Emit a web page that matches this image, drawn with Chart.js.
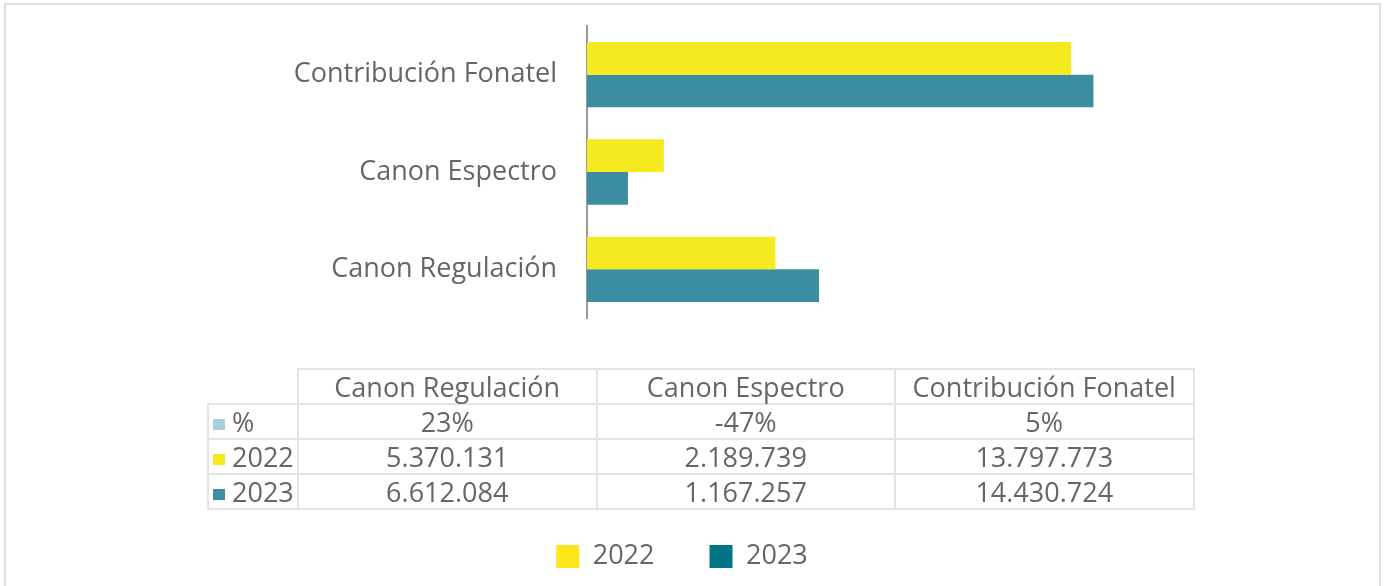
<!DOCTYPE html>
<html lang="es">
<head>
<meta charset="utf-8">
<title>Canon Regulación, Canon Espectro y Contribución Fonatel</title>
<script src="https://cdn.jsdelivr.net/npm/chart.js@4.4.0/dist/chart.umd.min.js"></script>
<style>
  body { margin: 0; background: #fff; }
  #wrap { position: relative; width: 1385px; height: 586px; overflow: hidden; font-family: "Open Sans", sans-serif; }
  #marco { position: absolute; left: 4px; top: 3px; width: 1377px; height: 600px; border: 2px solid #dedede; box-sizing: border-box; }
  #grafico { position: absolute; left: 0; top: 0; }
  #tabla { position: absolute; left: 207px; top: 368px; border-collapse: collapse; color: #666; font-size: 27px; }
  #tabla td { border: 2px solid #e4e4e4; height: 33px; padding: 0; text-align: center; line-height: 33px; white-space: nowrap; }
  #tabla td.serie { text-align: left; width: 84px; padding-left: 4px; }
  #tabla td.vacia { border-top: none; border-left: none; }
  #tabla td.col { width: 296.5px; }
  .cuadro { display: inline-block; width: 12px; height: 11px; margin-right: 7px; vertical-align: 2px; }
</style>
</head>
<body>
<div id="wrap">
  <div id="marco"></div>
  <canvas id="grafico" width="1385" height="586"></canvas>
  <table id="tabla"></table>
</div>
<script>
// datos (orden de la tabla)
const categorias = ['Canon Regulación', 'Canon Espectro', 'Contribución Fonatel'];
const variacion = ['23%', '-47%', '5%'];
const valores2022 = [5370131, 2189739, 13797773];
const valores2023 = [6612084, 1167257, 14430724];
const series = ['2022', '2023'];

const colorBarras = ['#F4EA1F', '#3D8DA2'];
const colorLeyenda = ['#FCE51A', '#017585'];
const colorPct = '#A8CFDC';
const gris = '#666666';

function formato(n) {
  return n.toLocaleString('de-DE');
}

function armarTabla() {
  const tabla = document.getElementById('tabla');
  let html = '<tr><td class="serie vacia"></td>';
  categorias.forEach(c => { html += '<td class="col">' + c + '</td>'; });
  html += '</tr>';
  html += '<tr><td class="serie"><span class="cuadro" style="background:' + colorPct + '"></span>%</td>';
  variacion.forEach(v => { html += '<td>' + v + '</td>'; });
  html += '</tr>';
  [valores2022, valores2023].forEach((fila, i) => {
    html += '<tr><td class="serie"><span class="cuadro" style="background:' + colorBarras[i] + '"></span>' + series[i] + '</td>';
    fila.forEach(v => { html += '<td>' + formato(v) + '</td>'; });
    html += '</tr>';
  });
  tabla.innerHTML = html;
}

// la leyenda queda abajo, separada de las barras por la tabla
const ajusteLeyenda = {
  id: 'ajusteLeyenda',
  beforeLayout(chart) {
    const lg = chart.legend;
    if (lg && !lg.parcheado) {
      const fitOriginal = lg.fit;
      lg.fit = function () { fitOriginal.call(this); this.height = 98; };
      lg.parcheado = true;
    }
  }
};

function inicializarGrafico() {
  Chart.defaults.font.family = '"Open Sans", sans-serif';
  Chart.defaults.color = gris;
  const ctx = document.getElementById('grafico').getContext('2d');
  new Chart(ctx, {
    type: 'bar',
    data: {
      labels: categorias,
      datasets: [
        { label: series[0], data: valores2022, backgroundColor: colorBarras[0] },
        { label: series[1], data: valores2023, backgroundColor: colorBarras[1] }
      ]
    },
    plugins: [ajusteLeyenda],
    options: {
      indexAxis: 'y',
      responsive: false,
      animation: false,
      categoryPercentage: 0.672,
      barPercentage: 1,
      layout: { padding: { top: 26, right: 21, bottom: 0, left: 0 } },
      scales: {
        y: {
          reverse: true,
          grid: { display: false, drawTicks: false },
          border: { display: true, color: '#9a9a9a', width: 2 },
          ticks: { font: { size: 27 }, color: gris, padding: 30 },
          afterFit: (axis) => { axis.width = 587; axis.paddingTop = 0; axis.paddingBottom = 0; }
        },
        x: {
          min: 0,
          max: 22140000,
          grid: { display: false },
          border: { display: false },
          ticks: { display: false },
          afterFit: (axis) => { axis.height = 170; }
        }
      },
      plugins: {
        tooltip: { enabled: false },
        legend: {
          position: 'bottom',
          labels: {
            font: { size: 27 },
            color: gris,
            boxWidth: 23,
            boxHeight: 23,
            padding: 55,
            generateLabels: (chart) => chart.data.datasets.map((ds, i) => ({
              text: ds.label,
              fillStyle: colorLeyenda[i],
              strokeStyle: colorLeyenda[i],
              lineWidth: 0,
              fontColor: gris,
              hidden: !chart.isDatasetVisible(i),
              datasetIndex: i
            }))
          }
        }
      }
    }
  });
}

armarTabla();
inicializarGrafico();
</script>
</body>
</html>
